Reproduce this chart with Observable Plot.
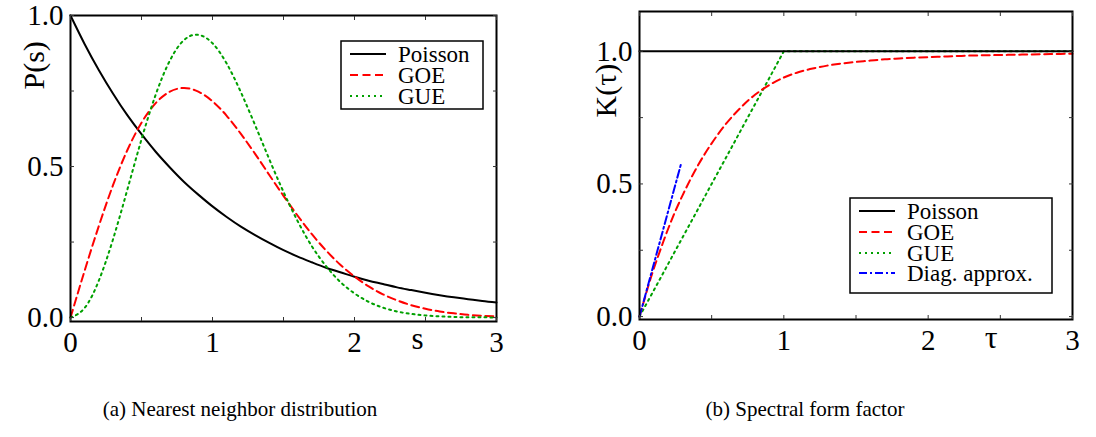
<!DOCTYPE html>
<html>
<head>
<meta charset="utf-8">
<script src="https://cdn.jsdelivr.net/npm/d3@7"></script>
<script src="https://cdn.jsdelivr.net/npm/@observablehq/plot@0.6"></script>
<style>
  html, body { margin: 0; padding: 0; background: #fff; }
  #wrap { position: relative; width: 1096px; height: 437px; background: #fff; overflow: hidden; }
  .panel { position: absolute; top: 0; }
  .cap { position: absolute; font-size: 21px; color: #000; white-space: nowrap; text-align: center; }
  .legend { position: absolute; }
</style>
</head>
<body>
<div id="wrap">
  <div id="pa" class="panel" style="left:0px"></div>
  <div id="pb" class="panel" style="left:548px"></div>
  <div class="cap" style="left:40px; width:400px; top:397px">(a) Nearest neighbor distribution</div>
  <div class="cap" style="left:605px; width:400px; top:397px">(b) Spectral form factor</div>
</div>
<script>
// ---------- data: panel (a) nearest neighbour spacing distribution ----------
const sValues = [0,0.1,0.2,0.3,0.4,0.5,0.6,0.7,0.8,0.9,1.0,1.1,1.2,1.3,1.4,1.5,1.6,1.7,1.8,1.9,2.0,2.1,2.2,2.3,2.4,2.5,2.6,2.7,2.8,2.9,3.0];
const poissonP = [1.000,0.905,0.819,0.741,0.670,0.607,0.549,0.497,0.449,0.407,0.368,0.333,0.301,0.273,0.247,0.223,0.202,0.183,0.165,0.150,0.135,0.122,0.111,0.100,0.091,0.082,0.074,0.067,0.061,0.055,0.050];
const goeP = [0,0.156,0.304,0.439,0.554,0.645,0.710,0.748,0.760,0.748,0.716,0.668,0.608,0.542,0.472,0.403,0.337,0.276,0.222,0.175,0.136,0.103,0.077,0.057,0.041,0.029,0.020,0.014,0.009,0.006,0.004];
const gueP = [0,0.032,0.123,0.260,0.423,0.590,0.738,0.851,0.919,0.936,0.908,0.841,0.746,0.637,0.524,0.416,0.319,0.236,0.170,0.118,0.080,0.052,0.033,0.020,0.012,0.007,0.004,0.002,0.001,0.001,0.000];

// ---------- data: panel (b) spectral form factor ----------
const tauGOE = [0,0.05,0.1,0.2,0.3,0.4,0.5,0.6,0.7,0.8,0.9,1.0,1.1,1.2,1.3,1.4,1.5,1.6,1.7,1.8,1.9,2.0,2.1,2.2,2.3,2.4,2.5,2.6,2.7,2.8,2.9,3.0];
const goeK = [0,0.095,0.182,0.333,0.459,0.565,0.653,0.727,0.787,0.836,0.873,0.901,0.921,0.935,0.946,0.954,0.960,0.965,0.970,0.973,0.976,0.978,0.980,0.982,0.984,0.985,0.986,0.987,0.988,0.989,0.990,0.991];
const tauPoisson = [0,3];
const poissonK = [1,1];
const tauGUE = [0,1,3];
const gueK = [0,1,1];
const tauDiag = [0,0.29];
const diagK = [0,0.58];

// ---------- ticks / labels ----------
const xMajor = [0,1,2,3];
const xMinor = [0,0.5,1,1.5,2,2.5,3];
const yMajorA = [0,0.5,1];
const yMinorA = [0,0.25,0.5,0.75,1];
const yMajorB = [0,0.5,1];
const yMinorB = [0,0.25,0.5,0.75,1];

const seriesColors = {"Poisson":"#000000","GOE":"#ff0000","GUE":"#00a000","Diag. approx.":"#0000ff"};
const seriesDash = {"Poisson":null,"GOE":"8,4.5","GUE":"2,4","Diag. approx.":"8,3,2,3"};

function rows(xs, ys, name) { return xs.map((x,i)=>({x, y: ys[i], name})); }

const dataA = [
  ...rows(sValues, poissonP, "Poisson"),
  ...rows(sValues, goeP, "GOE"),
  ...rows(sValues, gueP, "GUE")
];
const dataB = [
  ...rows(tauPoisson, poissonK, "Poisson"),
  ...rows(tauGOE, goeK, "GOE"),
  ...rows(tauGUE, gueK, "GUE"),
  ...rows(tauDiag, diagK, "Diag. approx.")
];

const FONT = "Liberation Serif";

function lineMarks(data, names, curves) {
  return names.map(n => Plot.line(data.filter(d => d.name === n), {
    x: "x", y: "y", stroke: seriesColors[n], strokeWidth: 2,
    strokeDasharray: seriesDash[n], curve: curves[n] || "linear"
  }));
}

function axesMarks(yMajor, yMinor) {
  const tk = 4;
  return [
    Plot.axisX(xMinor, {anchor: "bottom", tickSize: tk, dy: -tk, tickFormat: () => "", label: null, stroke: "#333"}),
    Plot.axisX(xMinor, {anchor: "top", tickSize: tk, dy: tk, tickFormat: () => "", label: null, stroke: "#333"}),
    Plot.axisY(yMinor, {anchor: "left", tickSize: tk, dx: tk, tickFormat: () => "", label: null, stroke: "#333"}),
    Plot.axisY(yMinor, {anchor: "right", tickSize: tk, dx: -tk, tickFormat: () => "", label: null, stroke: "#333"}),
    Plot.axisX(xMajor, {anchor: "bottom", tickSize: 0, tickPadding: 10, tickFormat: d => String(d), label: null, fontSize: 29}),
    Plot.axisY(yMajor, {anchor: "left", tickSize: 0, tickPadding: 7, tickFormat: ".1f", label: null, fontSize: 29})
  ];
}

const plotA = Plot.plot({
  width: 548, height: 360,
  marginLeft: 70, marginRight: 52, marginTop: 15, marginBottom: 39,
  x: {domain: [0, 3]},
  y: {domain: [-0.013, 1]},
  style: {fontFamily: FONT, fontSize: "29px", background: "transparent", color: "#000", overflow: "visible"},
  marks: [
    ...lineMarks(dataA, ["Poisson","GOE","GUE"], {Poisson: "natural", GOE: "natural", GUE: "natural"}),
    Plot.frame({stroke: "#000", strokeWidth: 2}),
    ...axesMarks(yMajorA, yMinorA),
    Plot.text(["P(s)"], {frameAnchor: "top-left", dx: -48, dy: 74, rotate: -90, fontSize: 30, text: d => d}),
    Plot.text(["s"], {frameAnchor: "bottom-right", dx: -73, dy: 27, fontSize: 31, text: d => d})
  ]
});

const plotB = Plot.plot({
  width: 548, height: 360,
  marginLeft: 91, marginRight: 24, marginTop: 11, marginBottom: 41,
  x: {domain: [0, 3]},
  y: {domain: [-0.011, 1.15]},
  style: {fontFamily: FONT, fontSize: "29px", background: "transparent", color: "#000", overflow: "visible"},
  marks: [
    ...lineMarks(dataB, ["GUE","GOE","Diag. approx.","Poisson"], {GOE: "natural"}),
    Plot.frame({stroke: "#000", strokeWidth: 2}),
    ...axesMarks(yMajorB, yMinorB),
    Plot.text(["K(τ)"], {frameAnchor: "top-left", dx: -45, dy: 106, rotate: -90, fontSize: 30, text: d => d}),
    Plot.text(["τ"], {frameAnchor: "bottom-right", dx: -75, dy: 28, fontSize: 32, text: d => d})
  ]
});

document.getElementById("pa").appendChild(plotA);
document.getElementById("pb").appendChild(plotB);

// ---------- legends ----------
function legend(left, top, w, h, names, rowY) {
  const svg = d3.select("#wrap").append("svg")
    .attr("class", "legend")
    .style("left", left + "px").style("top", top + "px")
    .attr("width", w).attr("height", h);
  svg.append("rect").attr("x", 1).attr("y", 1).attr("width", w - 2).attr("height", h - 2)
    .attr("fill", "#fff").attr("stroke", "#000").attr("stroke-width", 1.5);
  names.forEach((n, i) => {
    const y = rowY[i];
    svg.append("line").attr("x1", 10).attr("x2", 46).attr("y1", y).attr("y2", y)
      .attr("stroke", seriesColors[n]).attr("stroke-width", 2)
      .attr("stroke-dasharray", seriesDash[n]);
    svg.append("text").attr("x", 58).attr("y", y).attr("dy", "0.33em")
      .attr("font-size", 23).attr("fill", "#000").text(n);
  });
}
legend(340, 40, 144, 70, ["Poisson","GOE","GUE"], [14, 35, 56]);
legend(849, 197, 204, 97, ["Poisson","GOE","GUE","Diag. approx."], [14, 35, 56, 76]);

// force the serif face on every text
d3.selectAll("#wrap svg, #wrap text, #wrap .cap").style("font-family", FONT);
d3.selectAll("#wrap text").attr("font-family", FONT);
</script>
</body>
</html>
